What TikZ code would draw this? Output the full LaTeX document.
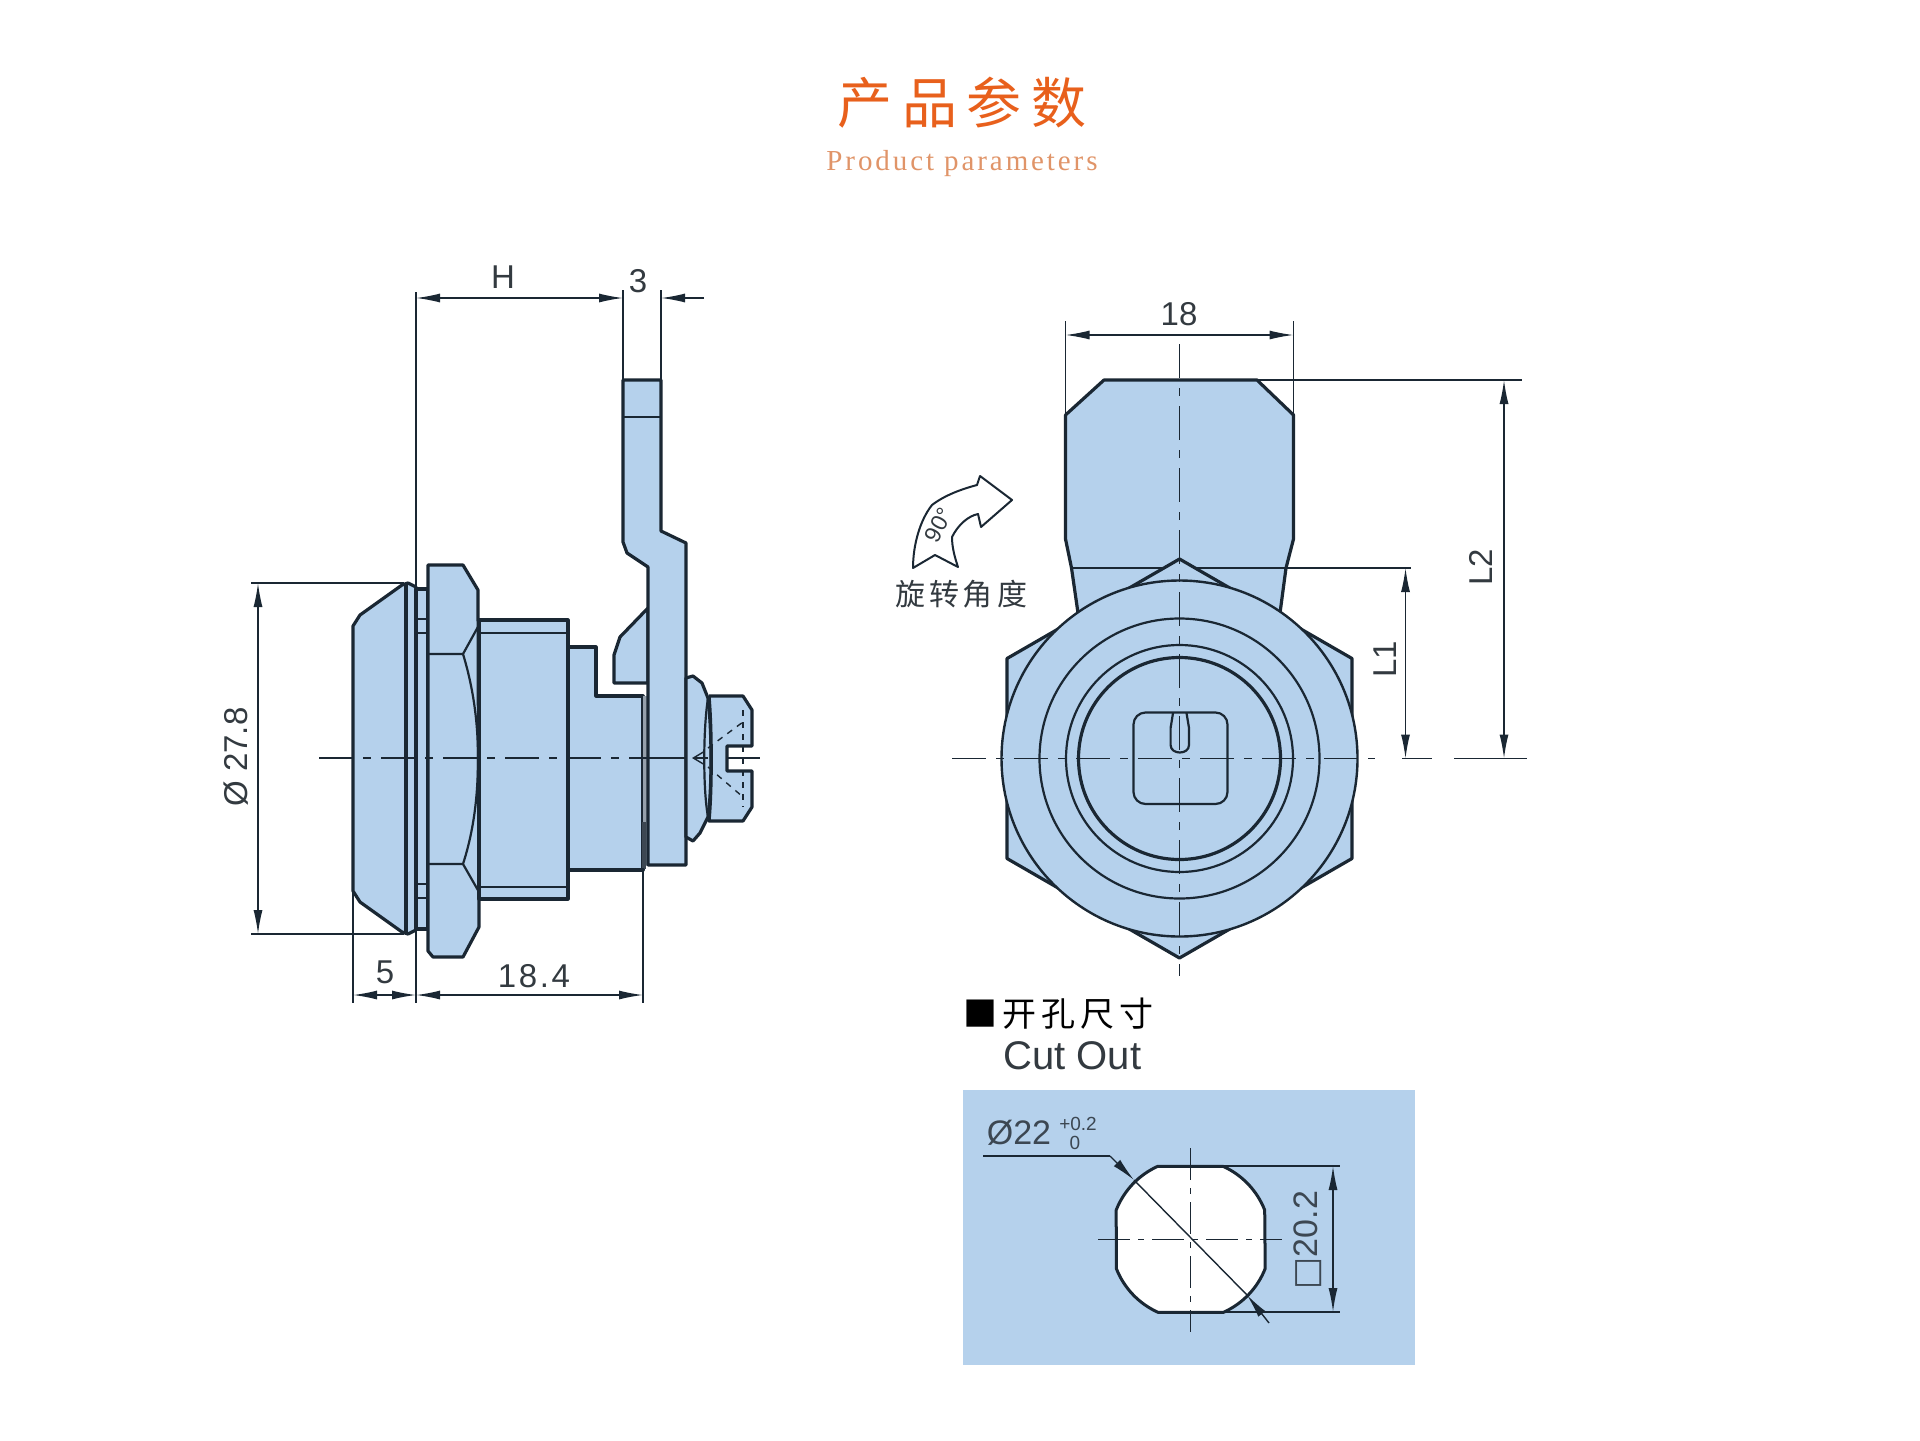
\documentclass[tikz,border=0pt]{standalone}
\usepackage{fontspec}
\usetikzlibrary{arrows.meta}
\setmainfont{Liberation Sans}
\newfontfamily\cjkfont{Noto Sans CJK SC}
\newfontfamily\titlefont[LetterSpace=18]{Noto Sans CJK SC}
\newfontfamily\subtitlefont[LetterSpace=10]{Liberation Serif}
\newfontfamily\headfont[LetterSpace=15]{Noto Sans CJK SC}
\newfontfamily\symbolfont{DejaVu Sans}
\definecolor{partblue}{HTML}{B5D1EC}
\definecolor{inkline}{HTML}{1A2733}
\definecolor{inktext}{HTML}{333A40}
\definecolor{titleorange}{HTML}{E8601C}
\definecolor{subtitleorange}{HTML}{E09468}
\tikzset{
    part/.style={draw=inkline, fill=partblue, line width=1.6pt, line join=round},
    edge/.style={draw=inkline, line width=1.1pt},
    dimline/.style={draw=inkline, line width=0.7pt},
    centreline/.style={draw=inkline, line width=0.75pt, dash pattern=on 17pt off 5pt on 4pt off 5pt},
    dimtext/.style={text=inktext, font=\fontsize{16.5}{18}\selectfont, inner sep=0pt},
    >={Latex[length=12pt,width=4.5pt]}
}
\begin{document}
\begin{tikzpicture}[x=0.5pt,y=-0.5pt]
    \useasboundingbox (0,0) rectangle (1920,1440);
    % title
    \node (title) [text=titleorange, font=\titlefont\fontsize{27.5}{30}\selectfont, inner sep=0pt] at (962,103) {产品参数};
    \node (subtitle) [text=subtitleorange, font=\subtitlefont\fontsize{14.5}{16}\selectfont, inner sep=0pt] at (962,164) {Product parameters};

    % side view
    \draw[part] (353,626) -- (360,615) -- (402,585) -- (408,583) -- (416,587) -- (416,930) -- (408,934) -- (402,932) -- (360,902) -- (353,891) -- cycle;
    \draw[part] (406,584) -- (406,933);
    \draw[part] (416,589) rectangle (428,929);
    \draw[edge] (416,619) -- (428,619);
    \draw[edge] (416,633) -- (428,633);
    \draw[edge] (416,884) -- (428,884);
    \draw[edge] (416,898) -- (428,898);
    \draw[part] (428,565) -- (463,565) -- (478,590) -- (479,927) -- (463,957) -- (433,957) -- (428,951) -- cycle;
    \draw[edge] (428,654) -- (463,654) -- (479,625);
    \draw[edge] (428,864) -- (463,864) -- (479,892);
    \draw[edge] (463,654) .. controls (474,690) and (478,725) .. (478,758) .. controls (478,795) and (474,830) .. (463,864);
    \draw[part] (479,620) rectangle (568,899);
    \draw[edge] (479,633) -- (568,633);
    \draw[edge] (479,887) -- (568,887);
    \draw[part] (568,647) -- (596,647) -- (596,696) -- (643,696) -- (643,870) -- (568,870) -- cycle;
    \draw[fill=gray!60!partblue, draw=none] (643,696) rectangle (648,866);
    \draw[fill=inkline!85, draw=none] (642,822) rectangle (646,869);
    \draw[part] (648,608) -- (620,637) -- (614,655) -- (614,683) -- (648,683) -- cycle;
    \draw[part] (623,380) -- (661,380) -- (661,531) -- (686,543) -- (686,865) -- (648,865) -- (648,567) -- (627,553) -- (623,542) -- cycle;
    \draw[edge] (623,417) -- (661,417);
    \draw[part] (686,678) -- (693,676) -- (702,683) -- (708,698) .. controls (712,730) and (712,790) .. (708,817) -- (700,833) -- (693,841) -- (686,837) -- cycle;
    \draw[edge] (708,698) .. controls (703,730) and (703,790) .. (708,817);
    \draw[part] (709,696) -- (743,696) -- (752,710) -- (752,746) -- (727,746) -- (727,771) -- (752,771) -- (752,807) -- (743,821) -- (709,821) .. controls (712,790) and (712,730) .. (709,696);
    \draw[dimline, dashed] (743,710) -- (743,807);
    \draw[dimline, dashed] (708,748) -- (743,722);
    \draw[dimline, dashed] (708,767) -- (743,797);
    \draw[centreline] (319,758) -- (648,758);
    \draw[dimline] (648,758) -- (686,758);
    \coordinate (screwtail) at (708,758);
    \coordinate (screwtip) at (692,758);
    \draw[dimline, -{Straight Barb[length=5pt,width=6pt]}] (screwtail) -- (screwtip);
    \draw[dimline] (727,758) -- (760,758);

    % side view dimensions
    \coordinate (hleft) at (416,298);
    \coordinate (hright) at (623,298);
    \coordinate (thickright) at (661,298);
    \coordinate (thickend) at (704,298);
    \draw[dimline] (416,292) -- (416,587);
    \draw[dimline] (416,930) -- (416,1003);
    \draw[dimline] (623,290) -- (623,380);
    \draw[dimline] (661,290) -- (661,380);
    \draw[dimline, <->] (hleft) -- (hright);
    \draw[dimline, ->] (thickend) -- (thickright);
    \node (hlabel) [dimtext] at (503,277) {H};
    \node (thicklabel) [dimtext] at (638,281) {3};
    \coordinate (diatop) at (258,583);
    \coordinate (diabot) at (258,934);
    \draw[dimline] (251,583) -- (404,583);
    \draw[dimline] (251,934) -- (404,934);
    \draw[dimline, <->] (diatop) -- (diabot);
    \node (dialabel) [dimtext, rotate=90] at (236,757) {Ø 27.8};
    \coordinate (headleft) at (353,995);
    \coordinate (headright) at (416,995);
    \coordinate (bodyright) at (643,995);
    \draw[dimline] (353,893) -- (353,1003);
    \draw[dimline] (643,868) -- (643,1003);
    \draw[dimline, <->] (headleft) -- (headright);
    \draw[dimline, <->] (headright) -- (bodyright);
    \node (headlabel) [dimtext] at (385,972) {5};
    \node (bodylabel) [dimtext, font=\addfontfeature{LetterSpace=8}\fontsize{16.5}{18}\selectfont] at (534,976) {18.4};

    % front view
    \draw[part] (1065.5,415) -- (1104,380) -- (1257,380) -- (1293.5,415) -- (1293.5,539) -- (1286,568) -- (1280,613) -- (1078,613) -- (1071.5,568) -- (1065.5,539) -- cycle;
    \draw[edge] (1071.5,568) -- (1286,568);
    \draw[part] (1179.5,559) -- (1352,658.5) -- (1352,858.5) -- (1179.5,958) -- (1007,858.5) -- (1007,658.5) -- cycle;
    \coordinate (frontcentre) at (1179.5,758.5);
    \draw[part, line width=1.2pt] (frontcentre) circle[radius=178];
    \draw[edge] (frontcentre) circle[radius=140];
    \draw[edge] (frontcentre) circle[radius=113.5];
    \draw[draw=inkline, line width=1.6pt] (frontcentre) circle[radius=101];
    \draw[edge, rounded corners=6pt] (1133.5,712.5) rectangle (1227.5,804);
    \draw[edge] (1173,713) -- (1170.6,728) -- (1170.6,745) .. controls (1170.6,755) and (1189,755) .. (1189,745) -- (1189,728) -- (1186.5,713);
    \draw[centreline] (952,758.5) -- (1375,758.5);
    \draw[dimline] (1402,758.5) -- (1432,758.5);
    \draw[dimline] (1454,758.5) -- (1527,758.5);
    \draw[centreline] (1179.5,344) -- (1179.5,976);
    % front view dimensions
    \coordinate (wideleft) at (1065.5,335);
    \coordinate (wideright) at (1293.5,335);
    \draw[dimline] (1065.5,321) -- (1065.5,415);
    \draw[dimline] (1293.5,321) -- (1293.5,415);
    \draw[dimline, <->] (wideleft) -- (wideright);
    \node (widelabel) [dimtext] at (1179,314) {18};
    \coordinate (ltopa) at (1405.5,568);
    \coordinate (lbota) at (1405.5,758.5);
    \coordinate (ltopb) at (1504,380);
    \coordinate (lbotb) at (1504,758.5);
    \draw[dimline] (1286,568) -- (1411,568);
    \draw[dimline] (1257,380) -- (1522,380);
    \draw[dimline, <->] (ltopa) -- (lbota);
    \draw[dimline, <->] (ltopb) -- (lbotb);
    \node (lonelabel) [dimtext, rotate=90] at (1385,659) {L1};
    \node (ltwolabel) [dimtext, rotate=90] at (1481,567) {L2};

    % rotation mark
    \draw[draw=inkline, fill=white, line width=1pt, line join=round] (913,568) .. controls (913,545) and (920,520) .. (932,505) .. controls (945,495) and (962,489) .. (977,485) -- (980,476) -- (1012,500) -- (981,527) -- (978,514) .. controls (968,516) and (958,525) .. (952,537) .. controls (952,548) and (955,558) .. (958,567) -- (935,555) -- cycle;
    \node (anglelabel) [text=inktext, rotate=62, font=\fontsize{11.5}{13}\selectfont, inner sep=0pt] at (939,525) {90°};
    \node (anglecaption) [text=inktext, font=\cjkfont\fontsize{15}{18}\selectfont, inner sep=0pt] at (961,594) {旋\hspace{2pt}转\hspace{2pt}角\hspace{2pt}度};

    % cut out
    \node (cuthead) [anchor=west, text=black, font=\headfont\fontsize{17}{20}\selectfont, inner sep=0pt] at (963,1014) {■开孔尺寸};
    \node (cutname) [anchor=west, text=inktext, font=\fontsize{20}{22}\selectfont, inner sep=0pt] at (1003,1056) {Cut Out};
    \draw[fill=partblue, draw=none] (963,1090) rectangle (1415,1365);
    \draw[draw=inkline, fill=white, line width=1.5pt, line join=round] (1158,1166.3) -- (1223,1166.3) arc[start angle=-65.8, end angle=-21.4, radius=80] -- (1265.2,1268.5) arc[start angle=21.4, end angle=65.8, radius=80] -- (1158,1312.3) arc[start angle=114.2, end angle=158.6, radius=80] -- (1116.2,1210) arc[start angle=201.4, end angle=245.8, radius=80] -- cycle;
    \draw[centreline, dash pattern=on 16pt off 4pt on 3pt off 4pt] (1190.7,1148) -- (1190.7,1332);
    \draw[centreline, dash pattern=on 16pt off 4pt on 3pt off 4pt] (1098,1239.3) -- (1282,1239.3);
    \coordinate (leadstart) at (983,1156);
    \coordinate (leadbend) at (1110,1156);
    \coordinate (leadtip) at (1134,1180);
    \coordinate (leadend) at (1269,1323);
    \coordinate (leadtipb) at (1247,1295);
    \draw[dimline, line width=1pt] (leadstart) -- (leadbend);
    \draw[dimline, ->] (leadbend) -- (leadtip);
    \draw[dimline] (leadtip) -- (leadtipb);
    \draw[dimline, ->] (leadend) -- (leadtipb);
    \node (cutdia) [dimtext, text=inkline!85, font=\fontsize{17}{18}\selectfont] at (1019,1133) {Ø22};
    \node (cutplus) [dimtext, text=inkline!85, font=\fontsize{9.5}{10}\selectfont] at (1078,1124) {+0.2};
    \node (cutzero) [dimtext, text=inkline!85, font=\fontsize{9.5}{10}\selectfont] at (1075,1143) {0};
    \coordinate (sqtop) at (1333,1166);
    \coordinate (sqbot) at (1333,1312);
    \draw[dimline, line width=1pt] (1222,1166) -- (1340,1166);
    \draw[dimline, line width=1pt] (1222,1312) -- (1340,1312);
    \draw[dimline, <->] (sqtop) -- (sqbot);
    \node (sqlabel) [dimtext, text=inkline!85, rotate=90, font=\fontsize{17}{18}\selectfont] at (1308,1240) {{\symbolfont □}20.2};
\end{tikzpicture}
\end{document}
